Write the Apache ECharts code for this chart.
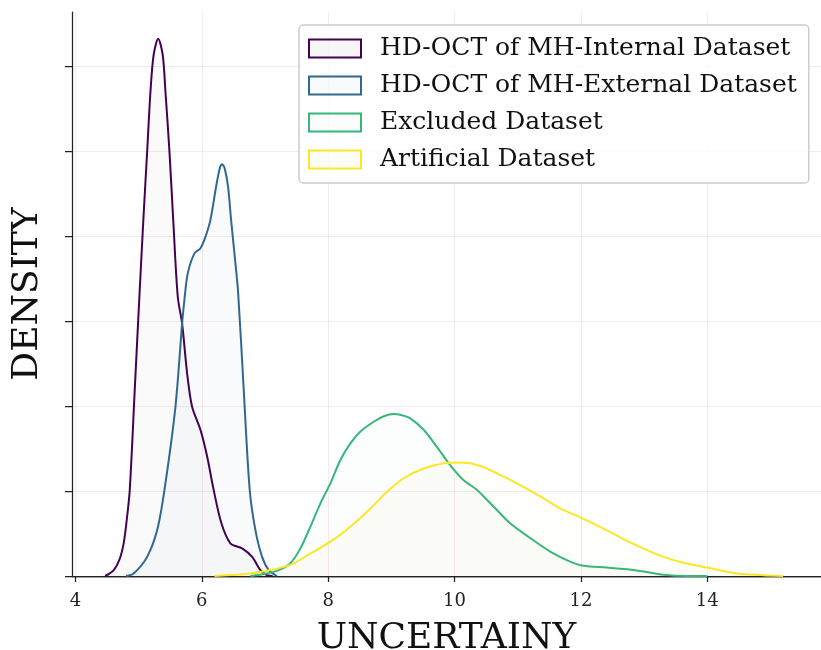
<!DOCTYPE html>
<html>
<head>
<meta charset="utf-8">
<script src="https://cdn.jsdelivr.net/npm/echarts@6/dist/echarts.min.js"></script>
<style>html,body{margin:0;padding:0;background:#fff}#c{width:821px;height:650px}</style>
</head>
<body>
<div id="c"></div>
<script>
var seriesNames = ['HD-OCT of MH-Internal Dataset','HD-OCT of MH-External Dataset','Excluded Dataset','Artificial Dataset'];
var internalKde = [[4.47,0],[4.606,0.014],[4.70,0.04],[4.764,0.078],[4.81,0.13],[4.859,0.202],[4.938,0.438],[5.017,0.673],[5.075,0.84],[5.135,1.0],[5.187,1.14],[5.237,1.226],[5.309,1.264],[5.381,1.226],[5.424,1.14],[5.487,1.0],[5.55,0.83],[5.619,0.657],[5.688,0.594],[5.767,0.477],[5.846,0.398],[5.978,0.344],[6.084,0.281],[6.188,0.202],[6.31,0.124],[6.452,0.077],[6.638,0.065],[6.796,0.045],[6.927,0.014],[7.03,0.002],[7.12,0]];
var externalKde = [[4.8,0],[4.922,0.006],[5.134,0.045],[5.293,0.108],[5.408,0.202],[5.582,0.398],[5.688,0.594],[5.729,0.657],[5.777,0.712],[5.883,0.759],[5.978,0.771],[6.057,0.798],[6.136,0.838],[6.226,0.916],[6.283,0.959],[6.321,0.969],[6.362,0.959],[6.415,0.916],[6.463,0.838],[6.516,0.759],[6.574,0.668],[6.663,0.438],[6.758,0.202],[6.848,0.108],[6.954,0.045],[7.059,0.014],[7.19,0]];
var excludedKde = [[6.77,0],[7.03,0.006],[7.22,0.014],[7.402,0.03],[7.56,0.065],[7.718,0.116],[7.877,0.171],[8.035,0.218],[8.193,0.273],[8.351,0.312],[8.51,0.34],[8.72,0.363],[8.88,0.376],[9.037,0.381],[9.17,0.378],[9.30,0.371],[9.51,0.344],[9.72,0.304],[9.93,0.261],[10.14,0.226],[10.36,0.202],[10.62,0.163],[10.88,0.124],[11.2,0.089],[11.52,0.057],[11.83,0.034],[12.04,0.024],[12.41,0.02],[12.73,0.016],[12.94,0.012],[13.31,0.003],[13.68,0],[14.0,0]];
var artificialKde = [[6.2,0],[6.77,0.006],[7.085,0.014],[7.402,0.026],[7.718,0.053],[8.035,0.081],[8.351,0.116],[8.668,0.159],[8.93,0.198],[9.195,0.23],[9.51,0.253],[9.827,0.265],[10.09,0.267],[10.41,0.259],[10.72,0.238],[11.04,0.214],[11.36,0.187],[11.67,0.159],[11.99,0.138],[12.31,0.115],[12.62,0.091],[12.94,0.068],[13.31,0.045],[13.65,0.03],[13.99,0.02],[14.47,0.006],[14.89,0.002],[15.2,0]];
var xTicks = [4,6,8,10,12,14];
var yTicks = [0,0.2,0.4,0.6,0.8,1.0,1.2];
var colors = ['#440154','#31688e','#35b779','#fde725'];
var fills = ['rgba(110,100,120,0.05)','rgba(49,104,142,0.03)','rgba(53,150,121,0.025)','rgba(200,200,37,0.035)'];
var datasets = [internalKde, externalKde, excludedKde, artificialKde];

var FONT = 'DejaVu Serif';
var gridLine = {show:true, lineStyle:{color:'rgba(190,120,150,0.2)', width:0.8}};
var chart = echarts.init(document.getElementById('c'), null, {renderer:'canvas'});
var series = datasets.map(function(d,i){
  return {
    name: seriesNames[i], type:'line', data:d, smooth:0.3, showSymbol:false, symbol:'none',
    lineStyle:{color:colors[i], width:2}, itemStyle:{color:colors[i]},
    areaStyle:{color:fills[i], origin:'start'}, z: 2+i
  };
});
chart.setOption({
  animation:false,
  backgroundColor:'#fff',
  grid:{left:72, right:0, top:12, bottom:74, containLabel:false, outerBoundsMode:'none'},
  legend:{
    orient:'vertical', left:299, top:25, padding:[11,12,11,9], itemGap:12,
    itemWidth:52, itemHeight:18, icon:'rect',
    backgroundColor:'rgba(255,255,255,0.8)', borderColor:'#cccccc', borderWidth:1.5, borderRadius:4,
    textStyle:{fontFamily:FONT, fontSize:25, color:'#111', padding:[0,0,0,14]},
    data: seriesNames.map(function(n,i){return {name:n, itemStyle:{color:fills[i], borderColor:colors[i], borderWidth:2}};})
  },
  xAxis:[{
    type:'value', min:3.945, max:15.8, splitNumber:6,
    name:'UNCERTAINY', nameLocation:'middle', nameGap:45,
    nameTextStyle:{fontFamily:FONT, fontSize:36, color:'#111'},
    axisLine:{show:true, onZero:false, lineStyle:{color:'#222', width:1.25}},
    axisTick:{show:true, length:6, lineStyle:{color:'#222', width:1.25}, customValues:xTicks},
    axisLabel:{fontFamily:FONT, fontSize:18, color:'#222', margin:16, customValues:xTicks},
    splitLine:gridLine
  },{
    type:'value', position:'top', min:3.945, max:15.8,
    axisLine:{show:true, lineStyle:{color:'#222', width:1.25}},
    axisTick:{show:false}, axisLabel:{show:false}, splitLine:{show:false}
  }],
  yAxis:{
    type:'value', min:0, max:1.327, interval:0.2,
    name:'DENSITY', nameLocation:'middle', nameGap:26,
    nameTextStyle:{fontFamily:FONT, fontSize:36, color:'#111'},
    axisLine:{show:true, lineStyle:{color:'#222', width:1.25}},
    axisTick:{show:true, length:7, lineStyle:{color:'#222', width:1.25}, customValues:yTicks},
    axisLabel:{show:false},
    splitLine:gridLine
  },
  series: series
});
</script>
</body>
</html>
